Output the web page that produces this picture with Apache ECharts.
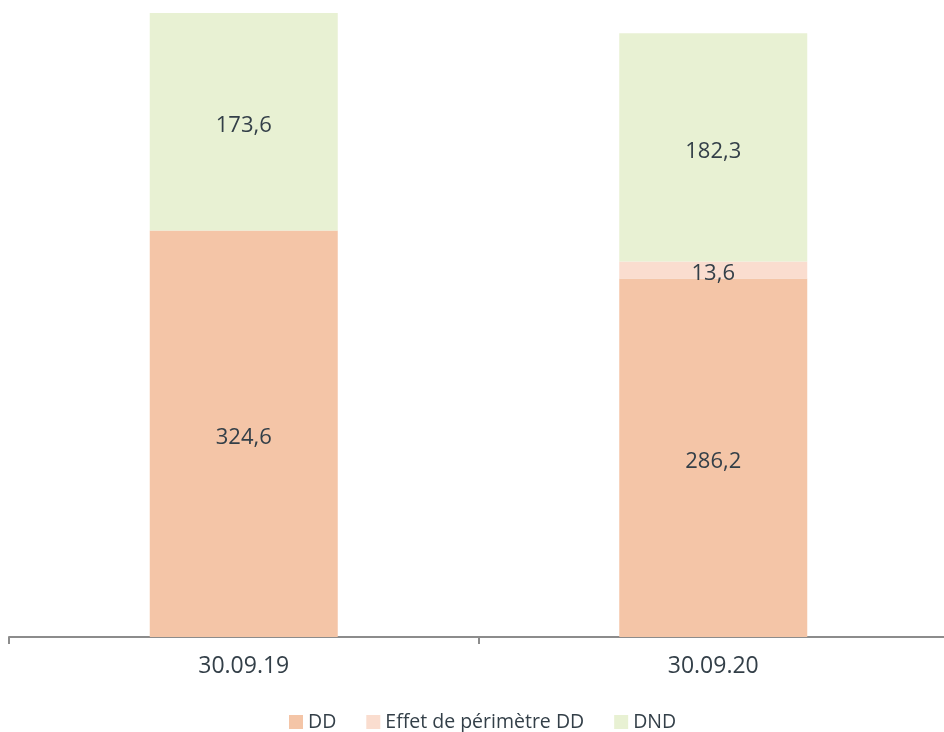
<!DOCTYPE html>
<html><head><meta charset="utf-8">
<script src="https://cdn.jsdelivr.net/npm/echarts@6/dist/echarts.min.js"></script>
<style>html,body{margin:0;padding:0;background:#fff}#c{width:944px;height:732px}</style>
</head><body><div id="c"></div>
<script>
const categories = ['30.09.19', '30.09.20'];
const dd = [324.6, 286.2];
const effet = [null, 13.6];
const dnd = [173.6, 182.3];
const seriesNames = ['DD', 'Effet de périmètre DD', 'DND'];
const colors = ['#F4C5A7', '#FADDCF', '#E8F1D3'];
const txt = '#333F48';
const font = 'Open Sans';
const fmt = p => p.value == null ? '' : String(p.value).replace('.', ',');
const mk = (name, data, color) => ({
  name, type: 'bar', stack: 's', data, barWidth: 188,
  itemStyle: { color },
  label: { show: true, position: 'inside', offset: [0, 4], formatter: fmt, color: txt, fontFamily: font, fontSize: 22 }
});
const chart = echarts.init(document.getElementById('c'));
chart.setOption({
  animation: false,
  grid: { left: 9, width: 939, top: 13, bottom: 95, outerBoundsMode: 'none', containLabel: false },
  legend: {
    top: 707, left: 284, itemWidth: 14, itemHeight: 14, itemGap: 30,
    icon: 'rect',
    textStyle: { color: txt, fontFamily: font, fontSize: 19.5 },
    data: seriesNames
  },
  xAxis: {
    type: 'category', data: categories,
    axisLine: { lineStyle: { color: '#8C8C8C', width: 2 } },
    axisTick: { show: true, length: 7, lineStyle: { color: '#8C8C8C', width: 2 } },
    axisLabel: { color: txt, fontFamily: font, fontSize: 23, margin: 18 }
  },
  yAxis: { type: 'value', min: 0, max: 498.2, show: false, splitLine: { show: false } },
  series: [mk(seriesNames[0], dd, colors[0]), mk(seriesNames[1], effet, colors[1]), mk(seriesNames[2], dnd, colors[2])]
});
</script></body></html>
